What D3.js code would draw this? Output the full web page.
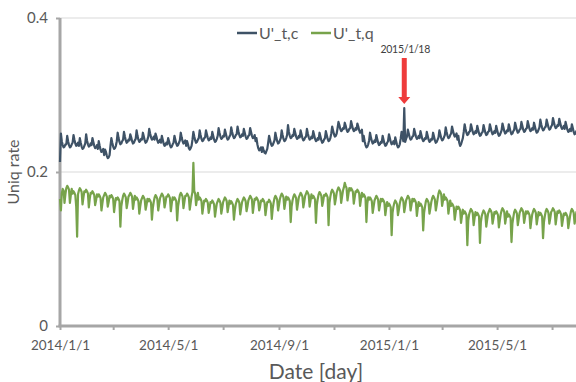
<!DOCTYPE html>
<html><head><meta charset="utf-8">
<script src="https://cdn.jsdelivr.net/npm/d3@7"></script>
<style>
html,body{margin:0;padding:0;background:#fff;}
svg{display:block;font-family:Lato,"Open Sans",sans-serif;}
</style></head>
<body>
<svg id="chart" width="576" height="382"></svg>
<script>
// ---- data (daily values, in thousandths) starting 2014/1/1 ----
const startDate = "2014-01-01";
const seriesNames = ["U'_t,c", "U'_t,q"];
const seriesColors = ["#3E5266", "#77A34B"];
const cVals = [
213,250,240,235,232,233,236, 236,247,240,235,232,233,236, 238,248,242,237,234,235,238,
234,244,238,233,230,231,234, 237,249,241,236,233,234,237, 235,244,239,234,231,232,235,
230,240,234,229,226,227,230, 222,229,226,221,218,219,222, 234,244,238,233,230,231,234,
240,251,244,239,236,237,240, 242,252,246,241,238,239,242, 241,249,245,240,237,238,241,
243,254,247,242,239,240,243, 242,251,246,241,238,239,242, 246,256,250,245,242,243,246,
242,250,246,241,238,239,242, 238,247,242,237,234,235,238, 236,244,240,235,232,233,236,
238,247,242,237,234,235,238, 241,251,245,240,237,238,241, 234,240,236,231,229,231,234,
242,252,246,241,238,239,242, 244,254,248,243,240,241,244, 245,254,249,244,241,242,245,
243,252,247,242,239,240,243, 247,257,251,246,243,244,247, 246,255,250,245,242,243,246,
248,258,252,247,244,245,248, 249,259,253,248,245,246,249, 247,256,251,246,243,244,247,
248,257,252,247,244,245,248, 240,244,236,231,228,229,232, 226,232,228,225,224,227,230,
238,247,242,237,234,235,238, 241,251,245,240,237,238,241, 244,254,248,243,240,241,244,
248,261,252,247,244,245,248, 247,256,251,246,243,244,247, 245,254,249,244,241,242,245,
246,256,250,245,242,243,246, 244,253,248,243,240,241,244, 242,251,246,241,238,239,242,
244,253,248,243,240,241,244, 250,259,254,249,246,247,250, 257,265,261,256,253,254,257,
256,264,260,255,252,253,256, 257,266,261,256,253,254,257, 255,263,259,254,251,252,255,
240,247,240,235,232,233,236, 241,251,245,240,237,238,241, 239,248,243,238,235,236,239,
238,247,242,237,234,235,238, 240,249,244,239,236,237,240, 236,245,240,235,232,233,236,
243,252,246,240,283,239,243, 246,255,250,245,242,243,246, 247,256,251,246,243,244,247,
244,253,248,243,240,241,244, 243,252,247,242,239,240,243, 242,251,246,241,238,239,242,
245,254,249,244,241,242,245, 248,258,252,247,244,245,248, 250,259,254,249,246,247,250,
242,247,238,234,236,240,244, 252,262,256,251,248,249,252, 253,262,257,252,249,250,253,
251,260,255,250,247,248,251, 252,261,256,251,248,249,252, 253,262,257,252,249,250,253,
251,260,255,250,247,248,251, 254,263,258,253,250,251,254, 253,262,257,252,249,250,253,
255,264,259,254,251,252,255, 256,265,260,255,252,253,256, 257,266,261,256,253,254,257,
255,264,259,254,251,252,255, 258,268,262,257,254,255,258, 259,268,263,258,255,256,259,
261,270,265,260,257,258,261, 260,269,264,259,256,257,260, 256,265,260,255,252,253,256,
253,262,257,252,249,250,253, 248,257,252
];
const qVals = [
165,150,172,178,176,160,171, 179,182,180,177,160,170,178, 172,175,173,170,155,116,171,
176,179,177,174,158,167,175, 174,177,175,172,154,165,173, 172,175,173,170,157,163,171,
168,171,169,166,150,159,167, 170,173,171,168,155,161,169, 167,170,168,165,148,158,166,
164,167,165,162,129,155,163, 169,172,170,167,153,160,168, 170,173,171,168,152,161,169,
164,167,165,162,146,155,163, 166,169,167,164,151,157,165, 162,165,163,160,138,153,161,
167,170,168,165,150,158,166, 169,172,170,167,154,160,168, 168,171,169,166,149,159,167,
164,167,165,162,137,155,163, 170,173,171,168,153,161,169, 169,172,170,167,151,160,168,
174,212,175,172,157,165,173, 164,167,165,162,146,155,163, 162,165,163,160,147,153,161,
160,163,161,158,142,151,159, 162,165,163,160,146,153,161, 164,167,165,162,148,155,163,
159,162,160,157,138,150,158, 162,165,163,160,145,153,161, 164,167,165,162,149,155,163,
166,169,167,164,147,157,165, 164,167,165,162,150,155,163, 162,165,163,160,144,153,161,
161,164,162,159,139,152,160, 166,169,167,164,150,157,165, 169,172,170,167,152,160,168,
164,167,165,162,135,155,163, 168,171,169,166,151,159,167, 170,173,171,168,154,161,169,
172,175,173,170,155,163,171, 166,169,167,164,134,157,165, 171,174,172,169,156,162,170,
169,172,170,167,131,160,168, 174,177,175,172,158,165,173, 177,180,178,175,160,168,176,
180,186,182,179,163,171,179, 176,179,177,174,159,167,175, 174,177,175,172,156,165,173,
168,171,169,166,135,159,167, 164,167,165,162,147,155,163, 166,169,167,164,150,157,165,
162,165,163,160,144,153,161, 156,159,157,154,118,147,155, 160,163,161,158,144,151,159,
164,167,165,162,148,155,163, 166,169,167,164,150,157,165, 162,165,163,160,143,153,161,
156,159,157,154,124,147,155, 162,165,163,160,146,153,161, 166,169,167,164,150,157,165,
172,176,174,171,156,163,171, 164,167,165,162,146,155,163, 156,159,157,154,138,147,155,
152,155,153,150,134,143,151, 146,149,147,144,105,137,145, 149,152,150,147,131,140,148,
144,147,145,142,108,135,143, 147,150,148,145,129,138,146, 149,152,150,147,133,140,148,
146,149,147,144,128,137,145, 150,153,151,148,133,141,149, 142,145,143,140,109,133,141,
148,151,149,146,131,139,147, 150,153,151,148,134,141,149, 146,149,147,144,127,137,145,
149,152,150,147,132,140,148, 144,147,145,142,114,135,143, 149,152,150,147,133,140,148,
150,153,151,148,132,141,149, 147,150,148,145,130,138,146, 144,147,145,142,127,135,143,
149,152,150,147,133,140,148, 146,149,147
];
const yTicks = [0, 0.2, 0.4];
const yTickLabels = ["0", "0.2", "0.4"];
const xLabelMonths = [1, 5, 9];
const annotDate = "2015-01-18";
const annotText = "2015/1/18";
const xTitle = "Date [day]";
const yTitle = "Uniq rate";

// ---- drawing ----
const svg = d3.select("#chart");
const parse = d3.timeParse("%Y-%m-%d");
const t0 = parse(startDate);
const day = i => d3.timeDay.offset(t0, i);
const mk = arr => arr.map((v, i) => ({date: day(i), value: v / 1000}));
const series = [mk(cVals), mk(qVals)];

const x = d3.scaleTime().domain([t0, parse("2015-08-01")]).range([60, 580]);
const y = d3.scaleLinear().domain([0, 0.4]).range([326, 18]);

// gridlines
svg.append("g").selectAll("line").data(yTicks.filter(d => d > 0)).join("line")
  .attr("x1", 60).attr("x2", 576)
  .attr("y1", d => y(d)).attr("y2", d => y(d))
  .attr("stroke", "#d9d9d9").attr("stroke-width", 1);

// y axis
const yAxis = d3.axisLeft(y).tickValues(yTicks).tickSize(5)
  .tickFormat((d, i) => yTickLabels[i]);
const gy = svg.append("g").attr("transform", "translate(60,0)").call(yAxis);
gy.select(".domain").attr("stroke", "#a6a6a6").attr("stroke-width", 3)
  .attr("d", `M0,${y(0.4)}V${y(0)}`);
gy.selectAll(".tick line").attr("stroke", "#a6a6a6").attr("stroke-width", 2).attr("x1", -4).attr("x2", 0);
gy.selectAll(".tick text").attr("x", -12).attr("fill", "#595959")
  .style("font-size", "15px").style("font-family", "Lato, sans-serif");

// x axis
const fmt = d => `${d.getFullYear()}/${d.getMonth() + 1}/${d.getDate()}`;
const xAxis = d3.axisBottom(x).ticks(d3.timeMonth.every(2)).tickSize(4)
  .tickFormat(d => xLabelMonths.includes(d.getMonth() + 1) ? fmt(d) : "");
const gx = svg.append("g").attr("transform", `translate(0,${y(0)})`).call(xAxis);
gx.select(".domain").attr("stroke", "#a6a6a6").attr("stroke-width", 3)
  .attr("d", `M58.5,0H576`);
gx.selectAll(".tick line").attr("stroke", "#a6a6a6").attr("stroke-width", 2);
gx.selectAll(".tick text").attr("y", 14).attr("fill", "#595959")
  .style("font-size", "13.5px").style("font-family", "Lato, sans-serif");

// lines
const line = d3.line().x(d => x(d.date)).y(d => y(d.value));
svg.append("g").selectAll("path").data(series).join("path")
  .attr("d", line).attr("fill", "none")
  .attr("stroke", (d, i) => seriesColors[i]).attr("stroke-width", 2.2)
  .attr("stroke-linejoin", "round");

// axis titles
svg.append("text").attr("x", 316).attr("y", 379).attr("text-anchor", "middle")
  .attr("fill", "#595959").style("font-size", "21px").text(xTitle);
svg.append("text").attr("transform", "translate(19,172) rotate(-90)")
  .attr("text-anchor", "middle").attr("fill", "#595959").style("font-size", "16px").text(yTitle);

// legend
const leg = svg.append("g");
const legX = [237, 311];
seriesNames.forEach((n, i) => {
  leg.append("line").attr("x1", legX[i]).attr("x2", legX[i] + 20).attr("y1", 33).attr("y2", 33)
    .attr("stroke", seriesColors[i]).attr("stroke-width", 2.5);
  leg.append("text").attr("x", legX[i] + 22).attr("y", 38.5).attr("fill", "#595959")
    .style("font-size", "16px").text(n);
});

// annotation
const ad = parse(annotDate);
const ax = x(ad);
svg.append("text").attr("x", ax + 1).attr("y", 53).attr("text-anchor", "middle")
  .attr("fill", "#404040").style("font-size", "10.5px").style("letter-spacing", "-0.3px").text(annotText);
const tipY = 104, topY = 58;
svg.append("path")
  .attr("d", `M${ax - 2.5},${topY}H${ax + 2.5}V${tipY - 7}H${ax + 6}L${ax},${tipY}L${ax - 6},${tipY - 7}H${ax - 2.5}Z`)
  .attr("fill", "#EE3B3B");
</script>
</body></html>
